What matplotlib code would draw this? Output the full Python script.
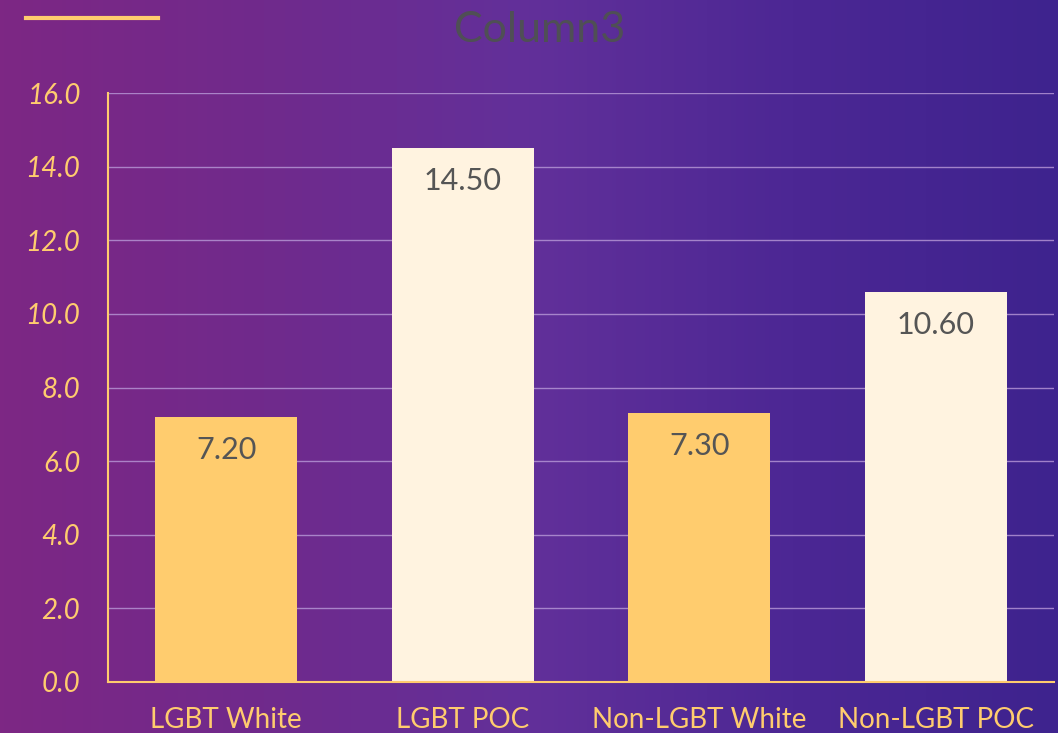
import numpy as np
import matplotlib.pyplot as plt
from matplotlib.colors import LinearSegmentedColormap

categories = ['LGBT White', 'LGBT POC', 'Non-LGBT White', 'Non-LGBT POC']
values = [7.20, 14.50, 7.30, 10.60]
bar_colors = ['#FFCC6E', '#FFF3E0', '#FFCC6E', '#FFF3E0']
yticks = [0, 2, 4, 6, 8, 10, 12, 14, 16]
title = 'Column3'

plt.rcParams['font.family'] = ['Lato', 'DejaVu Sans']
yellow = '#FFCC6E'

fig = plt.figure(figsize=(10.58, 7.33), dpi=100)

# background gradient
bg = fig.add_axes([0, 0, 1, 1], zorder=0)
cmap = LinearSegmentedColormap.from_list('bg', ['#7D2784', '#702A8C', '#62309A', '#4C2794', '#3E238E'])
grad = np.linspace(0, 1, 256).reshape(1, -1)
bg.imshow(grad, aspect='auto', cmap=cmap, extent=[0, 1, 0, 1])
bg.set_axis_off()

# legend-like line and title
fig.add_artist(plt.Line2D([26/1058, 158/1058], [1 - 17.5/733, 1 - 17.5/733], color=yellow, lw=3))
fig.text(540/1058, 1 - 30/733, title, ha='center', va='center', fontsize=31,
         color='#4F4F55')

ax = fig.add_axes([108/1058, 51/733, 946/1058, 589/733], zorder=1)
ax.patch.set_alpha(0)
x = np.arange(len(categories))
ax.bar(x, values, width=0.6, color=bar_colors, zorder=3)
for xi, v in zip(x, values):
    ax.text(xi, v - 0.9, f'{v:.2f}', ha='center', va='center', fontsize=22,
            color='#555555', zorder=4)

ax.set_xlim(-0.5, 3.5)
ax.set_ylim(0, 16)
ax.set_yticks(yticks)
ax.set_yticklabels([f'{t:.1f}' for t in yticks], fontsize=20, color=yellow,
                   style='italic')
ax.set_xticks(x)
ax.set_xticklabels(categories, fontsize=20, color=yellow)
ax.tick_params(axis='both', length=0)
ax.tick_params(axis='y', pad=20)
ax.tick_params(axis='x', pad=18)
ax.grid(axis='y', color='#B99AD8', lw=1, alpha=0.8, zorder=0)
for s in ['top', 'right']:
    ax.spines[s].set_visible(False)
ax.spines['left'].set_color(yellow)
ax.spines['bottom'].set_color(yellow)
ax.spines['left'].set_linewidth(1.5)
ax.spines['bottom'].set_linewidth(1.5)
ax.spines['bottom'].set_zorder(5)

fig.savefig('out.png', dpi=100)
